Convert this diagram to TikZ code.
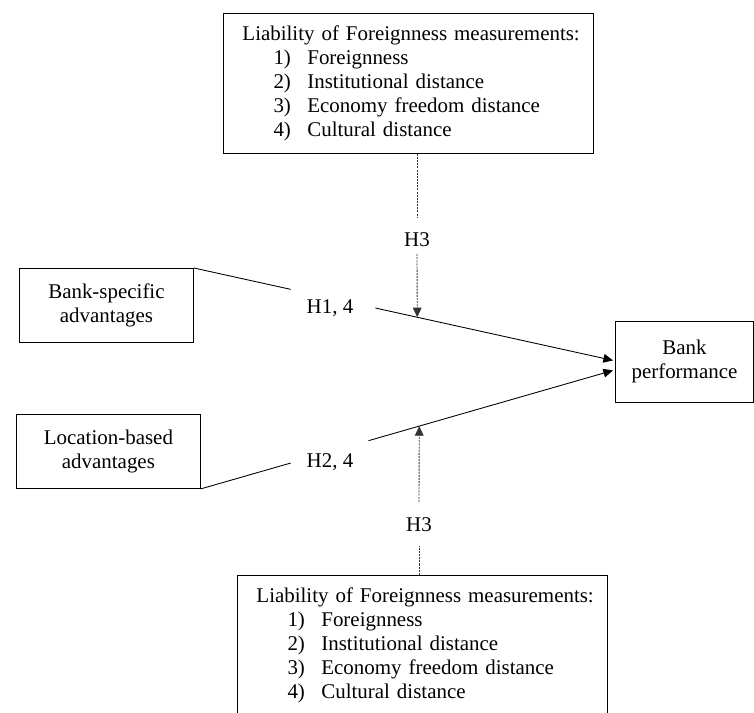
\documentclass[tikz,border=0pt]{standalone}
\usepackage{fontspec}
\setmainfont{Liberation Serif}
\usetikzlibrary{arrows.meta,calc}

\newcommand{\lofitem}[2]{\hspace*{17.8pt}\makebox[19.4pt][l]{#1}#2}
\newcommand{\lofmeasures}{\mbox{Liability of Foreignness measurements:}\\
  \lofitem{1)}{Foreignness}\\
  \lofitem{2)}{Institutional distance}\\
  \lofitem{3)}{Economy freedom distance}\\
  \lofitem{4)}{Cultural distance}}

\begin{document}
\begin{tikzpicture}[x=0.573pt, y=-0.573pt,
  every node/.style={font=\fontsize{12}{13.75}\selectfont},
  factor/.style={draw, line width=0.5pt, align=center, inner sep=0pt, anchor=north west},
  lofbox/.style={draw, line width=0.5pt, align=left, text width=190.2pt, inner xsep=10.9pt,
    minimum height=80.2pt, anchor=north west},
  link/.style={line width=0.5pt},
  modlink/.style={line width=0.5pt, black!80, dash pattern=on 1.2pt off 0.6pt},
  tip/.style={-{Triangle[length=5.5pt,width=5pt]}}]
   \useasboundingbox (0,0) rectangle (754,713);

   \node[lofbox] (lofTop) at (223,13) {\lofmeasures};
   \node[lofbox] (lofBot) at (237,575) {\lofmeasures};
   \node[factor, minimum width=99.7pt, minimum height=42.4pt] (bsa) at (19,268) {Bank-specific\\advantages};
   \node[factor, minimum width=105.4pt, minimum height=42.4pt] (lba) at (16,414) {Location-based\\advantages};
   \node[factor, minimum width=79.1pt, minimum height=46.4pt] (perf) at (615,321) {Bank\\performance};

   \node (h14) at (330,308) {H1, 4};
   \node (h24) at (330,462) {H2, 4};
   \node (h3a) at (417,240) {H3};
   \node (h3b) at (419,525) {H3};

   \coordinate (tipA) at ($(perf.west)+(-2,-1.5)$);
   \coordinate (tipB) at ($(perf.west)+(-2,8.5)$);
   \coordinate (modA) at ($(bsa.north east)!0.533!(tipA)$);
   \coordinate (modB) at ($(lba.south east)!0.530!(tipB)$);

   \draw[link] (bsa.north east) -- ($(bsa.north east)!0.231!(tipA)$);
   \draw[link,tip] ($(bsa.north east)!0.433!(tipA)$) -- (tipA);
   \draw[link] (lba.south east) -- ($(lba.south east)!0.218!(tipB)$);
   \draw[link,tip] ($(lba.south east)!0.407!(tipB)$) -- (tipB);

   \draw[modlink] (lofTop.south -| h3a) -- ($(h3a)+(0,-22)$);
   \draw[modlink,tip] ($(h3a)+(0,14)$) -- (modA);
   \draw[modlink] (lofBot.north -| h3b) -- ($(h3b)+(0,21)$);
   \draw[modlink,tip] ($(h3b)+(0,-23)$) -- (modB);
\end{tikzpicture}
\end{document}
